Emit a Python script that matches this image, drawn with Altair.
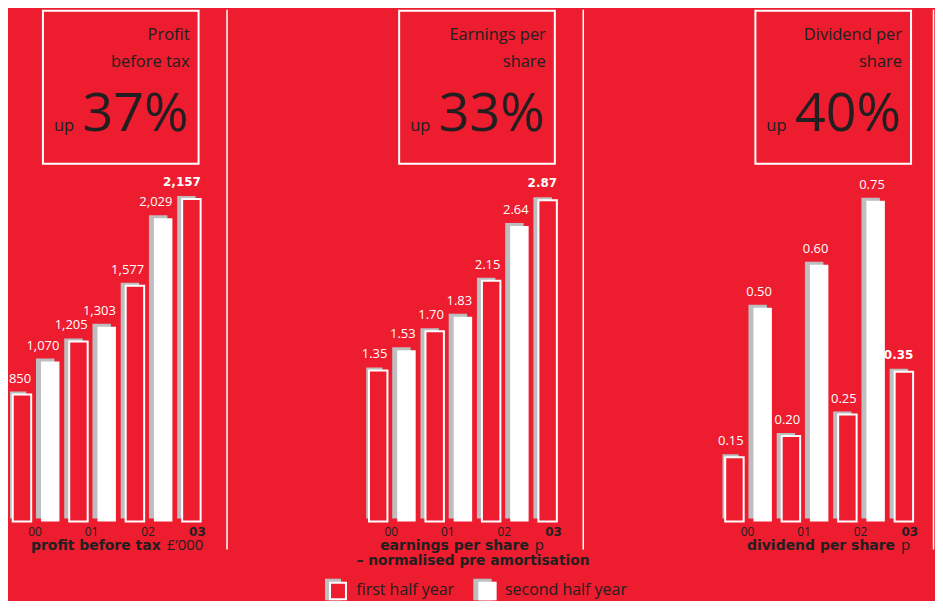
import altair as alt
import pandas as pd

# ---------------- data ----------------
years = ["00", "01", "02", "03"]
profit_first = [850, 1205, 1577, 2157]
profit_second = [1070, 1303, 2029]
eps_first = [1.35, 1.70, 2.15, 2.87]
eps_second = [1.53, 1.83, 2.64]
div_first = [0.15, 0.20, 0.25, 0.35]
div_second = [0.50, 0.60, 0.75]

box_line1 = ["Profit", "Earnings per", "Dividend per"]
box_line2 = ["before tax", "share", "share"]
box_pct = ["37%", "33%", "40%"]
title_bold = ["profit before tax", "earnings per share", "dividend per share"]
title_unit = ["£’000", "p", "p"]
title_line2 = ["", "– normalised pre amortisation", ""]
legend_labels = ["first half year", "second half year"]

# ---------------- style ----------------
RED = "#ED1C2E"
GREY = "#BCBEC0"
DARK = "#231F20"
FONT = "Open Sans"
BFONT = "DejaVu Sans"

H = 592          # panel height
BASE = 513       # baseline pixel
P = 28.3         # pixel pitch of a bar slot
X0 = 12          # pixel of first bar centre
HALF = 9.25 / P  # half bar width in slot units
WIDTHS = [357, 357, 213]
SEP_X = [217.5, 217.5, 211.5]
PX_PER_UNIT = [0.1498, 112.2, 428.7]
SPLIT = [151, 163, 173]


def fmt_int(v):
    return f"{v:,}"


def fmt_2(v):
    return f"{v:.2f}"


def bar_table(first, second, fmt):
    rows = []
    for k, y in enumerate(years):
        rows.append(dict(slot=2 * k, year=y, half="first", value=first[k],
                         label=fmt(first[k]), last=(k == len(years) - 1)))
        if k < len(second):
            rows.append(dict(slot=2 * k + 1, year=y, half="second", value=second[k],
                             label=fmt(second[k]), last=False))
    df = pd.DataFrame(rows)
    df["x0"] = df["slot"] - HALF
    df["x1"] = df["slot"] + HALF
    df["zero"] = 0.0
    return df


def txt(text, x, y, size, align="left", weight="normal", font=FONT, color=DARK):
    return alt.Chart(alt.Data(values=[{}])).mark_text(
        text=text, align=align, baseline="alphabetic", fontSize=size,
        fontWeight=weight, font=font, color=color
    ).encode(x=alt.value(x), y=alt.value(y))


def panel(i, first, second, fmt):
    width = WIDTHS[i]
    k = PX_PER_UNIT[i]
    df = bar_table(first, second, fmt)
    yrs = df.groupby("year", as_index=False)["slot"].mean()
    yrs["bold"] = yrs["year"] == years[-1]

    xs = alt.Scale(domain=[-X0 / P, (width - X0) / P], nice=False, zero=False)
    ys = alt.Scale(domain=[-(H - BASE) / k, BASE / k], nice=False, zero=False)
    X = alt.X("x0:Q", scale=xs, axis=None)
    X2 = alt.X2("x1:Q")
    Y = alt.Y("value:Q", scale=ys, axis=None)
    Y2 = alt.Y2("zero:Q")

    base = alt.Chart(df)
    shadow = base.mark_rect(fill=GREY, xOffset=-5, x2Offset=-5, yOffset=-3, y2Offset=-3,
                            clip=True).encode(x=X, x2=X2, y=Y, y2=Y2)
    bars1 = base.transform_filter("datum.half == 'first'").mark_rect(
        fill=RED, stroke="white", strokeWidth=2).encode(x=X, x2=X2, y=Y, y2=Y2)
    bars2 = base.transform_filter("datum.half == 'second'").mark_rect(
        fill="white").encode(x=X, x2=X2, y=Y, y2=Y2)

    LX = alt.X("slot:Q", scale=xs, axis=None)
    lab = base.transform_filter("!datum.last").mark_text(
        align="right", baseline="alphabetic", dx=9.25, dy=-12, color="white",
        font=FONT, fontSize=13).encode(x=LX, y=Y, text="label:N")
    lab_b = base.transform_filter("datum.last").mark_text(
        align="right", baseline="alphabetic", dx=9.5, dy=-13, color="white",
        font=BFONT, fontWeight="bold", fontSize=12).encode(x=LX, y=Y, text="label:N")

    ybase = alt.Chart(yrs)
    ylab = ybase.transform_filter("!datum.bold").mark_text(
        align="center", baseline="alphabetic", dx=-1, color=DARK, font=FONT, fontSize=12
    ).encode(x=LX, y=alt.value(527), text="year:N")
    ylab_b = ybase.transform_filter("datum.bold").mark_text(
        align="center", baseline="alphabetic", dx=6, color=DARK, font=BFONT,
        fontWeight="bold", fontSize=12
    ).encode(x=LX, y=alt.value(527), text="year:N")

    box = alt.Chart(alt.Data(values=[{}])).mark_rect(
        fillOpacity=0, stroke="white", strokeWidth=2
    ).encode(x=alt.value(33), x2=alt.value(189), y=alt.value(1), y2=alt.value(154.5))

    sep = alt.Chart(alt.Data(values=[{}])).mark_rule(color="white", strokeWidth=1.5).encode(
        x=alt.value(SEP_X[i]), y=alt.value(0), y2=alt.value(541))

    layers = [shadow, bars1, bars2, lab, lab_b, ylab, ylab_b, box, sep,
              txt(box_line1[i], 180, 30, 16.5, align="right"),
              txt(box_line2[i], 180, 57, 16.5, align="right"),
              txt("up", 44, 122, 16.5),
              txt(box_pct[i], 179, 122, 54, align="right"),
              txt(title_bold[i], SPLIT[i], 542, 14, align="right", weight="bold", font=BFONT),
              txt(title_unit[i], SPLIT[i] + 6, 542, 15)]
    if title_line2[i]:
        layers.append(txt(title_line2[i], 107, 557, 13.8, align="center", weight="bold", font=BFONT))

    if i == 0:
        leg = alt.Chart(alt.Data(values=[{}]))
        layers += [
            leg.mark_rect(fill=GREY).encode(x=alt.value(315.7), x2=alt.value(331.7),
                                            y=alt.value(570.3), y2=alt.value(592)),
            leg.mark_rect(fill=RED, stroke="white", strokeWidth=2).encode(
                x=alt.value(320.7), x2=alt.value(336.7), y=alt.value(574.3), y2=alt.value(591)),
            leg.mark_rect(fill=GREY).encode(x=alt.value(464.3), x2=alt.value(482.7),
                                            y=alt.value(570.3), y2=alt.value(592)),
            leg.mark_rect(fill="white").encode(x=alt.value(469.3), x2=alt.value(487.7),
                                               y=alt.value(573.3), y2=alt.value(592)),
            txt(legend_labels[0], 347, 587, 16),
            txt(legend_labels[1], 496, 587, 16),
        ]

    return alt.layer(*layers).properties(width=width, height=H)


p1 = panel(0, profit_first, profit_second, fmt_int)
p2 = panel(1, eps_first, eps_second, fmt_2)
p3 = panel(2, div_first, div_second, fmt_2)

chart = alt.hconcat(p1, p2, p3, spacing=0, bounds="flush").resolve_scale(
    x="independent", y="independent"
).properties(
    padding=0,
    background=RED,
).configure_view(stroke=None)

chart.save("out.html", embed_options={"renderer": "svg", "actions": False})
